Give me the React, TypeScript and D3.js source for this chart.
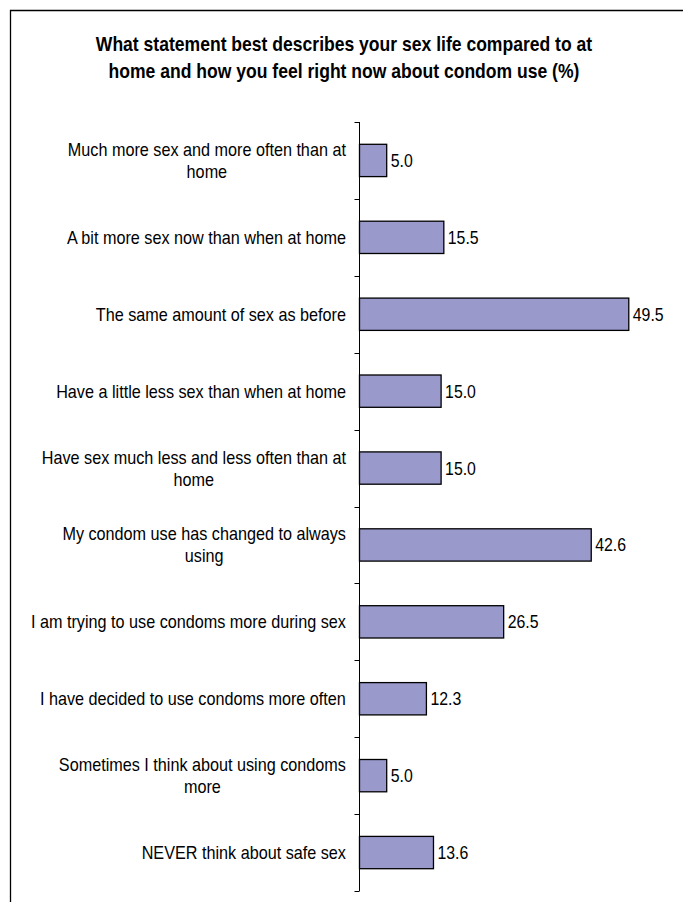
import React, { useEffect, useRef } from "react";
import * as d3 from "d3";

const categories: string[][] = [
  ["Much more sex and more often than at", "home"],
  ["A bit more sex now than when at home"],
  ["The same amount of sex as before"],
  ["Have a little less sex than when at home"],
  ["Have sex much less and less often than at", "home"],
  ["My condom use has changed to always", "using"],
  ["I am trying to use condoms more during sex"],
  ["I have decided to use condoms more often"],
  ["Sometimes I think about using condoms", "more"],
  ["NEVER think about safe sex"],
];
const values: number[] = [5.0, 15.5, 49.5, 15.0, 15.0, 42.6, 26.5, 12.3, 5.0, 13.6];
const titleLines: string[] = [
  "What statement best describes your sex life compared to at",
  "home and how you feel right now about condom use (%)",
];

const W = 683;
const H = 902;
const FONT = "'Liberation Sans', Arial, sans-serif";
const SX = 0.9;

export default function App() {
  const ref = useRef<SVGSVGElement | null>(null);

  useEffect(() => {
    const svg = d3.select(ref.current);
    svg.selectAll("*").remove();

    const x0 = 359.5;
    const yTop = 122;
    const yBot = 891;
    const x = d3.scaleLinear().domain([0, 60]).range([x0, x0 + 60 * 5.44]);
    const idx = categories.map((_, i) => String(i));
    const y = d3.scaleBand().domain(idx).range([yTop, yBot]).paddingInner(0.58).paddingOuter(0.29);
    const band = d3.scaleBand().domain(idx).range([yTop, yBot]);

    // frame
    svg.append("path")
      .attr("d", `M10.5,${H} L10.5,10.5 L${W},10.5`)
      .attr("fill", "none").attr("stroke", "#000").attr("stroke-width", 1.3);

    // title
    titleLines.forEach((l, i) => {
      svg.append("g")
        .attr("transform", `translate(344,${51 + i * 27}) scale(${SX},1)`)
        .append("text")
        .attr("text-anchor", "middle")
        .attr("font-family", FONT)
        .attr("font-weight", "bold")
        .attr("font-size", 19.5)
        .attr("fill", "#000")
        .text(l);
    });

    // bars
    svg.append("g").selectAll("rect").data(values).join("rect")
      .attr("x", x(0))
      .attr("y", (_, i) => (y(String(i)) as number))
      .attr("width", (d) => x(d) - x(0))
      .attr("height", y.bandwidth())
      .attr("fill", "#9999CC")
      .attr("stroke", "#000")
      .attr("stroke-width", 1.3);

    // value labels
    values.forEach((d, i) => {
      const cy = (band(String(i)) as number) + band.bandwidth() / 2;
      svg.append("g")
        .attr("transform", `translate(${x(d) + 4},${cy}) scale(0.88,1)`)
        .append("text")
        .attr("dy", "0.36em")
        .attr("font-family", FONT)
        .attr("font-size", 18)
        .attr("fill", "#000")
        .text(d.toFixed(1));
    });

    // axis
    const ax = svg.append("g");
    ax.append("line").attr("x1", x0).attr("x2", x0).attr("y1", yTop).attr("y2", yBot)
      .attr("stroke", "#000").attr("stroke-width", 1);
    const ticks = d3.range(categories.length + 1).map((i) => yTop + i * band.step());
    ax.selectAll("line.tick").data(ticks).join("line")
      .attr("class", "tick")
      .attr("x1", x0 - 5).attr("x2", x0)
      .attr("y1", (d) => Math.round(d) + 0.5).attr("y2", (d) => Math.round(d) + 0.5)
      .attr("stroke", "#000").attr("stroke-width", 1);

    // category labels
    const labelRight = 346;
    const lh = 22;
    categories.forEach((lines, i) => {
      const cy = (band(String(i)) as number) + band.bandwidth() / 2;
      const g = svg.append("g");
      const texts = lines.map((l, j) =>
        g.append("text")
          .attr("font-family", FONT)
          .attr("font-size", 18)
          .attr("fill", "#000")
          .attr("text-anchor", "middle")
          .attr("dy", "0.36em")
          .text(l)
      );
      let maxW = 0;
      texts.forEach((s) => {
        const n = s.node() as SVGTextContentElement;
        maxW = Math.max(maxW, n.getComputedTextLength() * SX);
      });
      const cx = labelRight - maxW / 2;
      texts.forEach((s, j) => {
        const ly = cy + (j - (lines.length - 1) / 2) * lh;
        s.attr("transform", `translate(${cx},${ly}) scale(${SX},1)`);
      });
    });
  }, []);

  return (
    <svg ref={ref} width={W} height={H} style={{ position: "absolute", left: 0, top: 0, background: "#fff" }} />
  );
}
